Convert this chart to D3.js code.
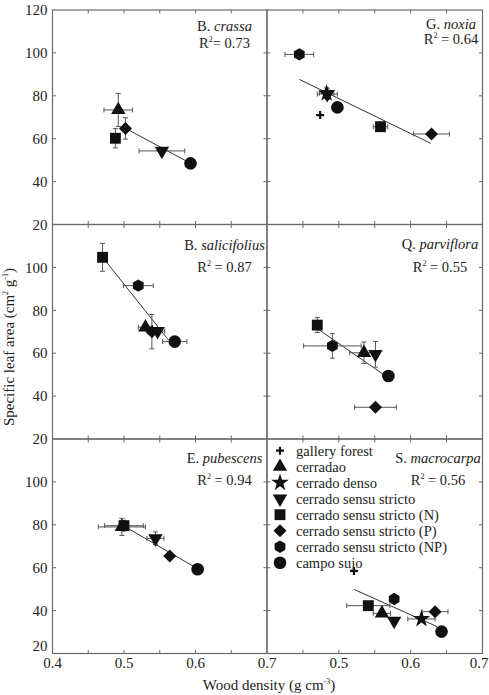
<!DOCTYPE html>
<html><head><meta charset="utf-8">
<script src="https://cdn.jsdelivr.net/npm/d3@7"></script>
<style>
html,body{margin:0;padding:0;background:#fff;}
svg{display:block;}
text{font-family:'Liberation Serif','Times New Roman','DejaVu Serif',serif;}
</style></head>
<body><svg id="chart" width="489" height="695" font-family="Liberation Serif, serif"></svg>
<script>
// ---------------- data ----------------
const genusInitial = ["B.", "G.", "B.", "Q.", "E.", "S."];
const epithet = ["crassa", "noxia", "salicifolius", "parviflora", "pubescens", "macrocarpa"];
const r2Values = ["0.73", "0.64", "0.87", "0.55", "0.94", "0.56"];
const habitats = ["gallery forest", "cerradao", "cerrado denso", "cerrado sensu stricto",
  "cerrado sensu stricto (N)", "cerrado sensu stricto (P)", "cerrado sensu stricto (NP)", "campo sujo"];
const xTicks = [0.4, 0.5, 0.6, 0.7];
const yTicks = [20, 40, 60, 80, 100, 120];

// points: habitat index, wood density, SLA, x error, y error
const crassaPts = [
  {h:1, x:0.492, y:73.4, ex:0.020, ey:7.7},
  {h:4, x:0.488, y:60.2, ex:0.005, ey:4.5},
  {h:5, x:0.502, y:64.8, ex:0.004, ey:5.0},
  {h:3, x:0.553, y:54.3, ex:0.032, ey:0},
  {h:7, x:0.593, y:48.5, ex:0.004, ey:2}
];
const noxiaPts = [
  {h:6, x:0.445, y:99.3, ex:0.020, ey:1},
  {h:3, x:0.484, y:80.8, ex:0.014, ey:2.5},
  {h:2, x:0.483, y:81.2, ex:0.010, ey:2.5},
  {h:7, x:0.498, y:74.6, ex:0, ey:0},
  {h:0, x:0.474, y:71.0, ex:0, ey:0},
  {h:4, x:0.558, y:65.6, ex:0.010, ey:2},
  {h:5, x:0.629, y:62.2, ex:0.025, ey:0}
];
const salicifoliusPts = [
  {h:4, x:0.470, y:104.7, ex:0.006, ey:6.5},
  {h:6, x:0.520, y:91.5, ex:0.021, ey:0},
  {h:1, x:0.530, y:72.1, ex:0.010, ey:0},
  {h:5, x:0.539, y:70.0, ex:0.006, ey:8},
  {h:3, x:0.547, y:70.3, ex:0.010, ey:0},
  {h:7, x:0.571, y:65.4, ex:0.017, ey:0}
];
const parvifloraPts = [
  {h:4, x:0.470, y:73.1, ex:0.005, ey:3.5},
  {h:6, x:0.491, y:63.4, ex:0.040, ey:5.7},
  {h:1, x:0.535, y:60.2, ex:0.020, ey:5},
  {h:3, x:0.551, y:59.5, ex:0.004, ey:6},
  {h:7, x:0.569, y:49.4, ex:0, ey:0},
  {h:5, x:0.551, y:34.8, ex:0.029, ey:0}
];
const pubescensPts = [
  {h:1, x:0.497, y:79.0, ex:0.033, ey:4},
  {h:4, x:0.500, y:79.6, ex:0.027, ey:2.5},
  {h:3, x:0.544, y:73.7, ex:0.012, ey:3},
  {h:5, x:0.564, y:65.5, ex:0, ey:0},
  {h:7, x:0.603, y:59.3, ex:0, ey:0}
];
const macrocarpaPts = [
  {h:0, x:0.521, y:58.5, ex:0, ey:0},
  {h:4, x:0.541, y:42.3, ex:0.030, ey:0},
  {h:1, x:0.560, y:38.7, ex:0.012, ey:0},
  {h:6, x:0.577, y:45.4, ex:0, ey:0},
  {h:3, x:0.577, y:35.2, ex:0, ey:0},
  {h:2, x:0.615, y:36.1, ex:0.019, ey:0},
  {h:5, x:0.634, y:39.5, ex:0.018, ey:0},
  {h:7, x:0.643, y:30.2, ex:0, ey:0}
];
const panelPoints = [crassaPts, noxiaPts, salicifoliusPts, parvifloraPts, pubescensPts, macrocarpaPts];

// regression lines: slope, intercept, x-extent
const fitSlope = [-179, -163, -419, -232, -193, -150];
const fitIntercept = [154.7, 160.2, 301.7, 180.5, 175.9, 128.05];
const fitFrom = [0.502, 0.445, 0.473, 0.473, 0.500, 0.521];
const fitTo = [0.593, 0.628, 0.562, 0.570, 0.602, 0.637];

// ---------------- layout ----------------
const colX = [52.5, 267];
const colW = [214.5, 215.5];
const rowY = [10, 224.5, 439];
const rowH = 214.5;
const labelCx = [224.5, 451, 224.5, 440, 224.5, 438];
const nameDy = [21, 19, 25, 24, 24.3, 23.5];
const r2Dy = [37.5, 34, 47.5, 47, 46, 46];
const frameColor = "#6a6a6a";
const errColor = "#555";
const FONT = "Liberation Serif, Times New Roman, serif";

const svg = d3.select("#chart");

// custom symbols
const hexagon = { draw(ctx, size) {
  const r = Math.sqrt(size / (3 * Math.sqrt(3) / 2));
  for (let i = 0; i < 6; i++) {
    const a = -Math.PI / 2 + i * Math.PI / 3;
    const px = r * Math.cos(a), py = r * Math.sin(a);
    if (i === 0) ctx.moveTo(px, py); else ctx.lineTo(px, py);
  }
  ctx.closePath();
}};
const diamond = { draw(ctx, size) {
  const r = Math.sqrt(size / 2);
  ctx.moveTo(0, -r); ctx.lineTo(r, 0); ctx.lineTo(0, r); ctx.lineTo(-r, 0); ctx.closePath();
}};
const plus = { draw(ctx, size) {
  const r = Math.sqrt(size) / 2, w = 1.1;
  ctx.moveTo(-r, -w); ctx.lineTo(-w, -w); ctx.lineTo(-w, -r); ctx.lineTo(w, -r); ctx.lineTo(w, -w);
  ctx.lineTo(r, -w); ctx.lineTo(r, w); ctx.lineTo(w, w); ctx.lineTo(w, r); ctx.lineTo(-w, r);
  ctx.lineTo(-w, w); ctx.lineTo(-r, w); ctx.closePath();
}};
const symbolTypes = [plus, d3.symbolTriangle, d3.symbolStar, d3.symbolTriangle, d3.symbolSquare,
  diamond, hexagon, d3.symbolCircle];
const symbolSizes = [64, 90, 95, 90, 118, 85, 100, 125];
const symbolRotate = [0, 0, 0, 180, 0, 0, 0, 0];

function drawSymbol(g, h, cx, cy) {
  g.append("path")
    .attr("d", d3.symbol().type(symbolTypes[h]).size(symbolSizes[h])())
    .attr("transform", `translate(${cx},${cy}) rotate(${symbolRotate[h]})`)
    .attr("fill", "#111");
}
function txt(g) {
  return g.append("text").attr("font-family", FONT).attr("fill", "#222");
}

// panels
panelPoints.forEach((pts, i) => {
  const col = i % 2, row = Math.floor(i / 2);
  const x = d3.scaleLinear().domain([0.4, 0.7]).range([colX[col], colX[col] + colW[col]]);
  const y = d3.scaleLinear().domain([20, 120]).range([rowY[row] + rowH, rowY[row]]);
  const g = svg.append("g");

  // ticks inward
  const tl = 3.5;
  const xt = [0.45, 0.5, 0.55, 0.6, 0.65];
  const yt = [40, 60, 80, 100];
  const tg = g.append("g").attr("stroke", frameColor).attr("stroke-width", 1);
  xt.forEach(v => {
    tg.append("line").attr("x1", x(v)).attr("x2", x(v)).attr("y1", y(120)).attr("y2", y(120) + tl);
    tg.append("line").attr("x1", x(v)).attr("x2", x(v)).attr("y1", y(20)).attr("y2", y(20) - tl);
  });
  yt.forEach(v => {
    tg.append("line").attr("y1", y(v)).attr("y2", y(v)).attr("x1", x(0.4)).attr("x2", x(0.4) + tl);
    tg.append("line").attr("y1", y(v)).attr("y2", y(v)).attr("x1", x(0.7)).attr("x2", x(0.7) - tl);
  });
  g.append("rect").attr("x", x(0.4)).attr("y", y(120)).attr("width", x(0.7) - x(0.4))
    .attr("height", y(20) - y(120)).attr("fill", "none").attr("stroke", frameColor).attr("stroke-width", 1.2);

  // y tick labels (left column)
  if (col === 0) {
    yTicks.forEach(v => {
      if (v === 120 && row > 0) return;
      let yy = y(v);
      if (v === 20 && row === 2) yy -= 8;
      txt(g).attr("x", x(0.4) - 5).attr("y", yy).attr("dy", "0.35em")
        .attr("text-anchor", "end").attr("font-size", 15).text(v);
    });
  }
  // x tick labels (bottom row)
  if (row === 2) {
    xTicks.forEach(v => {
      if (col === 1 && v === 0.4) return;
      const xx = (col === 1 && v === 0.7) ? x(v) - 3.5 : x(v);
      txt(g).attr("x", xx).attr("y", 668).attr("text-anchor", "middle")
        .attr("font-size", 15).text(d3.format(".1f")(v));
    });
  }

  // regression line
  g.append("line")
    .attr("x1", x(fitFrom[i])).attr("y1", y(fitIntercept[i] + fitSlope[i] * fitFrom[i]))
    .attr("x2", x(fitTo[i])).attr("y2", y(fitIntercept[i] + fitSlope[i] * fitTo[i]))
    .attr("stroke", "#333").attr("stroke-width", 1);

  // error bars
  const eg = g.append("g").attr("stroke", errColor).attr("stroke-width", 1);
  const cap = 2.5;
  pts.forEach(p => {
    if (p.ex > 0) {
      eg.append("line").attr("x1", x(p.x - p.ex)).attr("x2", x(p.x + p.ex)).attr("y1", y(p.y)).attr("y2", y(p.y));
      [p.x - p.ex, p.x + p.ex].forEach(v => eg.append("line").attr("x1", x(v)).attr("x2", x(v))
        .attr("y1", y(p.y) - cap).attr("y2", y(p.y) + cap));
    }
    if (p.ey > 0) {
      eg.append("line").attr("y1", y(p.y - p.ey)).attr("y2", y(p.y + p.ey)).attr("x1", x(p.x)).attr("x2", x(p.x));
      [p.y - p.ey, p.y + p.ey].forEach(v => eg.append("line").attr("y1", y(v)).attr("y2", y(v))
        .attr("x1", x(p.x) - cap).attr("x2", x(p.x) + cap));
    }
  });
  // markers
  pts.forEach(p => drawSymbol(g, p.h, x(p.x), y(p.y)));

  // labels
  const nm = txt(g).attr("x", labelCx[i]).attr("y", rowY[row] + nameDy[i])
    .attr("text-anchor", "middle").attr("font-size", 14.5);
  nm.append("tspan").text(genusInitial[i] + " ");
  nm.append("tspan").attr("font-style", "italic").text(epithet[i]);
  const rt = txt(g).attr("x", labelCx[i]).attr("y", rowY[row] + r2Dy[i])
    .attr("text-anchor", "middle").attr("font-size", 14.5);
  rt.append("tspan").text("R");
  rt.append("tspan").attr("font-size", 8).attr("dy", -6).text("2");
  rt.append("tspan").attr("dy", 6).text((i === 0 ? "= " : " = ") + r2Values[i]);
});

// legend
const lg = svg.append("g");
habitats.forEach((hname, k) => {
  const cy = 450.7 + k * 16;
  drawSymbol(lg, k, 280, cy);
  txt(lg).attr("x", 296).attr("y", cy + 5).attr("font-size", 14.5).text(hname);
});

// axis titles
const ytl = txt(svg).attr("transform", "translate(14,347) rotate(-90)")
  .attr("text-anchor", "middle").attr("font-size", 15);
ytl.append("tspan").text("Specific leaf area (cm");
ytl.append("tspan").attr("font-size", 8).attr("dy", -6).text("2");
ytl.append("tspan").attr("dy", 6).text(" g");
ytl.append("tspan").attr("font-size", 8).attr("dy", -6).text("-1");
ytl.append("tspan").attr("dy", 6).text(")");

const xtl = txt(svg).attr("x", 269).attr("y", 690)
  .attr("text-anchor", "middle").attr("font-size", 15);
xtl.append("tspan").text("Wood density (g cm");
xtl.append("tspan").attr("font-size", 8).attr("dy", -6).text("-3");
xtl.append("tspan").attr("dy", 6).text(")");
</script></body></html>
